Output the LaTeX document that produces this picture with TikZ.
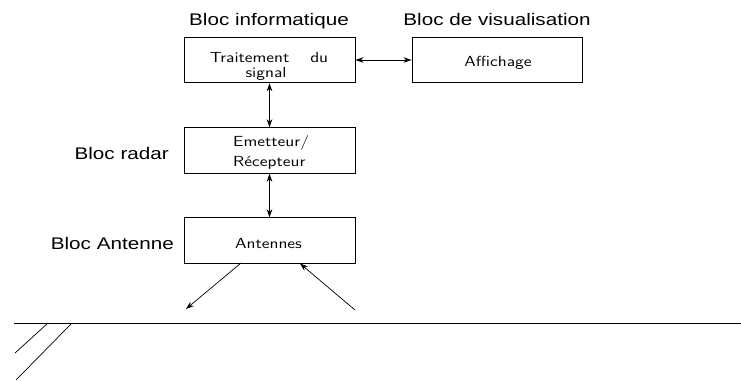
\documentclass[tikz,border=0pt]{standalone}
\usepackage{fontspec}
\newfontfamily\arialf{Liberation Sans}
\usetikzlibrary{arrows.meta}
\newcommand{\wxb}[1]{\scalebox{1.23}[1]{#1}}
\newcommand{\wxs}[1]{\scalebox{1.22}[1]{#1}}
\begin{document}
\begin{tikzpicture}[x=1pt,y=-1pt,
  box/.style={draw,line width=0.9pt,inner sep=0pt,minimum width=171pt,minimum height=45.5pt},
  bloclab/.style={font=\arialf\fontsize{16.8}{18}\selectfont,inner sep=0pt},
  boxtxt/.style={font=\sffamily\fontsize{14.6}{16}\selectfont,inner sep=0pt},
  link/.style={line width=0.8pt,{Stealth[length=8pt,width=5.5pt]}-{Stealth[length=8pt,width=5.5pt]}},
  ray/.style={line width=0.7pt,-{Stealth[length=8pt,width=5.5pt]}},
  thin/.style={line width=0.7pt}]
\useasboundingbox (0,0) rectangle (741,380);
% boxes
\node[box] (trait) at (269.5,60) {};
\node[box,minimum width=170pt] (aff) at (497,60) {};
\node[box] (emet) at (269.5,150.5) {};
\node[box] (ant) at (269.5,240.5) {};
% box texts
\node[boxtxt,anchor=base] (t1) at (269,62.3) {\wxs{\makebox[97pt][s]{Traitement\hfill du}}};
\node[boxtxt,anchor=base] (t2) at (266,77) {\wxs{signal}};
\node[boxtxt,anchor=base] (t3) at (498,66) {\wxs{Affichage}};
\node[boxtxt,anchor=base west] (t4) at (233,146.5) {\wxs{Emetteur/}};
\node[boxtxt,anchor=base west] (t5) at (233,166) {\wxs{Récepteur}};
\node[boxtxt,anchor=base] (t6) at (268.5,248) {\wxs{Antennes}};
% bloc labels
\node[bloclab,anchor=base] (l1) at (269,25) {\wxb{Bloc informatique}};
\node[bloclab,anchor=base] (l2) at (497,25) {\wxb{Bloc de visualisation}};
\node[bloclab,anchor=base east] (l3) at (169,159) {\wxb{Bloc radar}};
\node[bloclab,anchor=base east] (l4) at (174,249) {\wxb{Bloc Antenne}};
% connectors
\draw[link] (trait.east) -- (aff.west);
\draw[link] (trait.south) -- (emet.north);
\draw[link] (emet.south) -- (ant.south |- ant.north);
% antenna rays
\coordinate (a1) at (241,263);
\coordinate (a2) at (186,309);
\coordinate (b1) at (355,310);
\coordinate (b2) at (300,263.5);
\draw[ray] (a1) -- (a2);
\draw[ray] (b1) -- (b2);
% ground
\coordinate (g1) at (14,323);
\coordinate (g2) at (741,323);
\draw[line width=0.9pt] (g1) -- (g2);
\coordinate (h1) at (48,323);
\coordinate (h2) at (15,353);
\coordinate (h3) at (72,323);
\coordinate (h4) at (16,380);
\draw[thin] (h1) -- (h2);
\draw[thin] (h3) -- (h4);
\end{tikzpicture}
\end{document}
